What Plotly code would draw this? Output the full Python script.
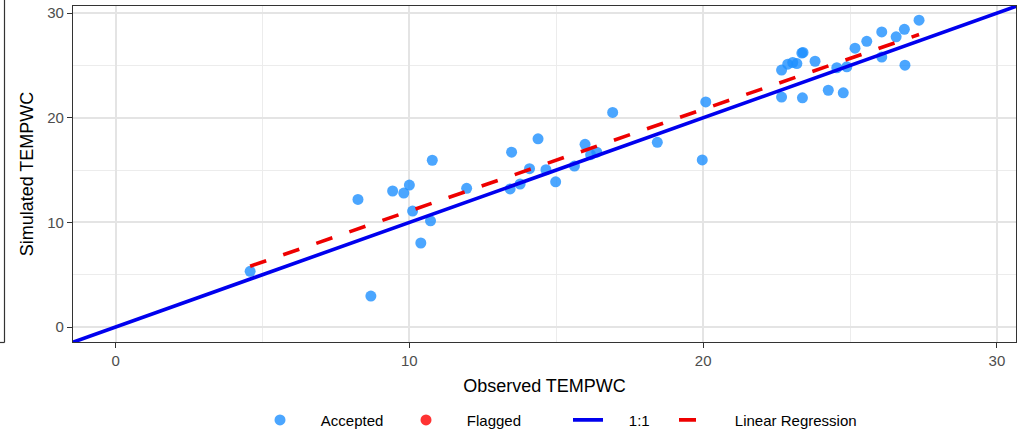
import numpy as np
import plotly.graph_objects as go

# Observed vs simulated TEMPWC (accepted points)
obs = [4.58, 8.25, 8.69, 9.43, 9.81, 10.00, 10.11, 10.72, 10.39, 10.78, 11.95,
       13.43, 13.48, 13.77, 14.09, 14.38, 14.65, 14.98, 15.62, 15.98, 16.17, 16.38,
       16.92, 18.44, 19.97, 20.09,
       22.67, 22.67, 22.88, 23.05, 23.19, 23.36, 23.40, 23.38, 23.81, 24.26, 24.55,
       24.77, 24.89, 25.17, 25.57, 26.08, 26.08, 26.57, 26.85, 26.87, 27.35]
sim = [5.32, 12.20, 2.96, 13.00, 12.80, 13.57, 11.08, 10.15, 8.03, 15.94, 13.26,
       13.20, 16.71, 13.67, 15.13, 17.99, 15.03, 13.88, 15.38, 17.46, 16.47, 16.71,
       20.51, 17.65, 15.97, 21.51,
       24.56, 21.98, 25.12, 25.28, 25.18, 26.18, 26.24, 21.91, 25.40, 22.63, 24.78,
       22.38, 24.87, 26.65, 27.30, 25.80, 28.20, 27.73, 28.45, 25.02, 29.32]

# Flagged points (none in this chart)
obs_flagged = []
sim_flagged = []

x_ticks = [0, 10, 20, 30]
y_ticks = [0, 10, 20, 30]
x_range = [-1.45, 30.65]
y_range = [-1.43, 30.68]

legend_names = ["Accepted", "Flagged", "1:1", "Linear Regression"]

obs_arr = np.array(obs)
sim_arr = np.array(sim)
slope, intercept = np.polyfit(obs_arr, sim_arr, 1)
reg_x = np.array([obs_arr.min(), obs_arr.max()])
reg_y = slope * reg_x + intercept

one_x = [min(x_range[0], y_range[0]) - 5, max(x_range[1], y_range[1]) + 5]

font_family = "Liberation Sans, Arial, sans-serif"
pad = "\u00a0" * 5

FIG_W, FIG_H = 1018, 439
M_L, M_R, M_T, M_B = 73, 2, 6, 89
PLOT_W = FIG_W - M_L - M_R
PLOT_H = FIG_H - M_T - M_B

def px_to_paper_x(px):
    return (px - M_L) / PLOT_W

def px_to_paper_y(py):
    return (FIG_H - M_B - py) / PLOT_H

fig = go.Figure()
fig.add_trace(go.Scatter(
    x=obs, y=sim, mode="markers", name=pad + legend_names[0], legend="legend",
    marker=dict(color="dodgerblue", size=11, opacity=0.8, line=dict(width=0)),
))
fig.add_trace(go.Scatter(
    x=obs_flagged if obs_flagged else [None], y=sim_flagged if sim_flagged else [None],
    mode="markers", name=pad + legend_names[1], legend="legend2",
    marker=dict(color="red", size=11, opacity=0.8, line=dict(width=0)),
))
fig.add_trace(go.Scatter(
    x=one_x, y=one_x, mode="lines", name=pad + legend_names[2], legend="legend3",
    line=dict(color="#0000ee", width=3.6),
))
fig.add_trace(go.Scatter(
    x=reg_x, y=reg_y, mode="lines", name=pad + legend_names[3], legend="legend4",
    line=dict(color="#ee0000", width=3.6, dash="17px,18px"),
))

axis_common = dict(
    showgrid=True, gridcolor="#e4e4e4", gridwidth=1.5,
    zeroline=False, automargin=False,
    showline=True, linecolor="#333333", linewidth=1.2, mirror=True,
    ticks="outside", ticklen=5, tickwidth=1.2, tickcolor="#333333",
    tickfont=dict(size=15, color="#4d4d4d", family=font_family),
    minor=dict(dtick=5, showgrid=True, gridcolor="#ececec", gridwidth=1, ticks=""),
)

legend_common = dict(orientation="h", xanchor="left", y=px_to_paper_y(430), yanchor="middle",
                     font=dict(size=15, color="black", family=font_family),
                     bgcolor="rgba(0,0,0,0)")

fig.update_layout(
    width=FIG_W, height=FIG_H,
    margin=dict(l=M_L, r=M_R, t=M_T, b=M_B),
    paper_bgcolor="white", plot_bgcolor="white",
    font=dict(family=font_family, color="black"),
    xaxis=dict(range=x_range, tickvals=x_ticks, tick0=0,
               title=dict(text="Observed TEMPWC", font=dict(size=18, color="black"), standoff=11),
               **axis_common),
    yaxis=dict(range=y_range, tickvals=y_ticks, tick0=0,
               title=dict(text="Simulated TEMPWC", font=dict(size=18, color="black"), standoff=8),
               **axis_common),
    legend=dict(x=px_to_paper_x(260), **legend_common),
    legend2=dict(x=px_to_paper_x(406), **legend_common),
    legend3=dict(x=px_to_paper_x(568), **legend_common),
    legend4=dict(x=px_to_paper_x(674), **legend_common),
    showlegend=True,
)

# edge of a neighbouring panel, cut off at the left
fig.add_shape(type="line", xref="paper", yref="paper",
              x0=px_to_paper_x(4.5), x1=px_to_paper_x(4.5),
              y0=px_to_paper_y(-2), y1=px_to_paper_y(350.5),
              line=dict(color="#333333", width=1.2))
fig.add_shape(type="line", xref="paper", yref="paper",
              x0=px_to_paper_x(-2), x1=px_to_paper_x(4.5),
              y0=px_to_paper_y(350.5), y1=px_to_paper_y(350.5),
              line=dict(color="#333333", width=1.2))

# remove the default page margin so the figure sits at the window origin
fig.write_html("out.html", config={"displayModeBar": False},
               post_script="document.body.style.margin='0';")
